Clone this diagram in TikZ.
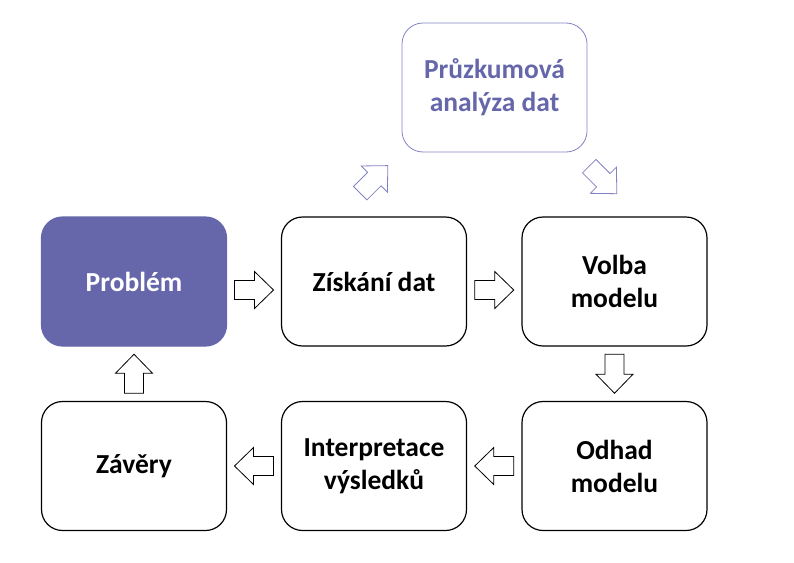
\documentclass[tikz,border=0pt]{standalone}
\usepackage{fontspec}
\setmainfont{Carlito}
\usetikzlibrary{calc}

\definecolor{fialova}{HTML}{6667AB}
\definecolor{svetlafialova}{HTML}{8282C4}

% block arrow pointing right, rotated to the wanted direction
\newcommand{\sipka}[3]{%
	\draw[#1, shift={#2}, rotate=#3] (-19.5,-9.5) -- (0.5,-9.5) -- (0.5,-18.5) -- (19.5,0)
		-- (0.5,18.5) -- (0.5,9.5) -- (-19.5,9.5) -- cycle;
}

\begin{document}
\begin{tikzpicture}[
					x = 1pt, y = -1pt,
					krok/.style = {draw = black, line width = 1.2pt, rounded corners = 21pt,
						minimum width = 185pt, minimum height = 129pt, inner sep = 0pt,
						align = center, font = \fontsize{27.5}{33}\selectfont\bfseries},
					cerna/.style = {draw = black, line width = 0.8pt, fill = white},
					fialova sipka/.style = {draw = svetlafialova, line width = 0.8pt, fill = white}]
					\def\radA{281.5}
					\def\radB{466}

					\useasboundingbox (0,0) rectangle (794,562);

					\node[krok, draw = fialova, fill = fialova, text = white] (problem) at (134,\radA) {Problém};
					\node[krok] (ziskani) at (374,\radA) {Získání dat};
					\node[krok] (volba) at (614.5,\radA) {Volba\\modelu};
					\node[krok, draw = svetlafialova, line width = 0.8pt, text = fialova] (pruzkum) at (494.5,87.5) {Průzkumová\\analýza dat};
					\node[krok] (zavery) at (134,\radB) {Závěry};
					\node[krok] (interpretace) at (374,\radB) {Interpretace\\výsledků};
					\node[krok] (odhad) at (614.5,\radB) {Odhad\\modelu};

					\sipka{cerna}{($(problem.east)!0.5!(ziskani.west) + (0,8.5)$)}{0}
					\sipka{cerna}{($(ziskani.east)!0.5!(volba.west) + (0,8.5)$)}{0}
					\sipka{cerna}{($(volba.south)!0.5!(odhad.north)$)}{-90}
					\sipka{cerna}{($(odhad.west)!0.5!(interpretace.east)$)}{180}
					\sipka{cerna}{($(interpretace.west)!0.5!(zavery.east)$)}{180}
					\sipka{cerna}{($(zavery.north)!0.5!(problem.south)$)}{90}
					\sipka{fialova sipka}{($(ziskani.north |- pruzkum.south)!0.5!(ziskani.north) + (0,-5)$)}{45}
					\sipka{fialova sipka}{($(volba.north |- pruzkum.south)!0.5!(volba.north) + (-11.5,-4.5)$)}{-45}

				\end{tikzpicture}
\end{document}
